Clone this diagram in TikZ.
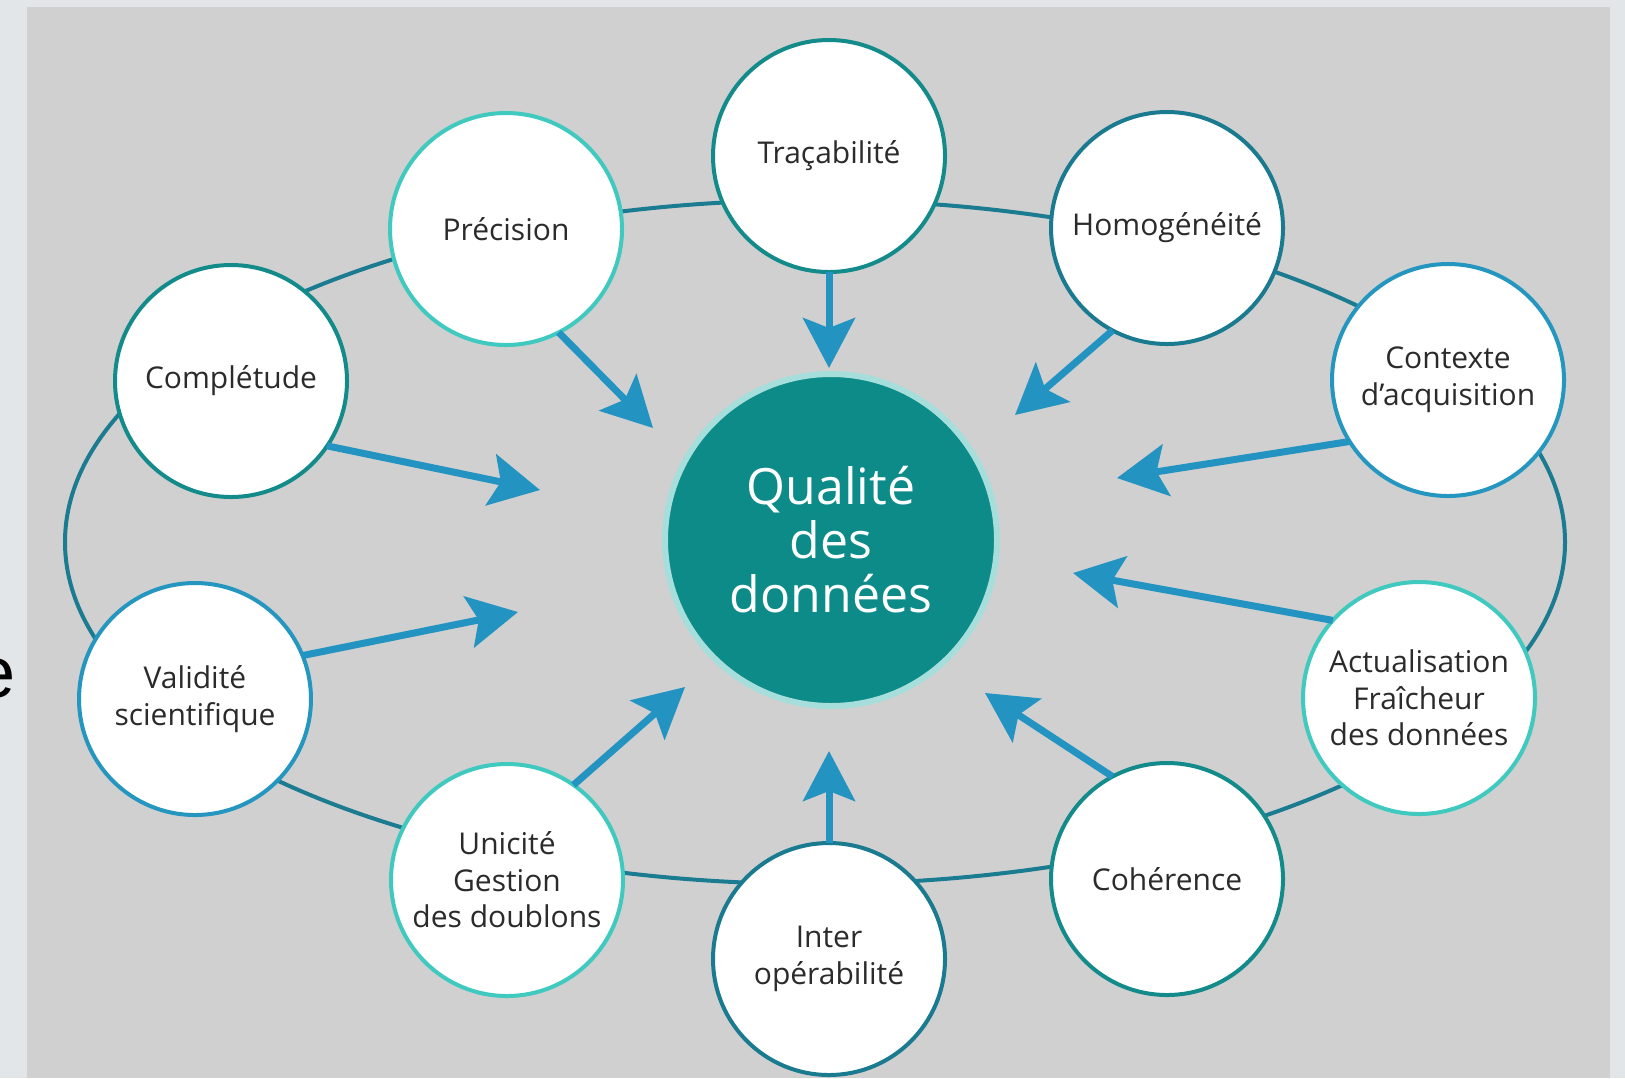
\documentclass[tikz,border=0pt]{standalone}
\usepackage{fontspec}
\setmainfont{Open Sans}
\newfontfamily\arialfont{Liberation Sans}
\usetikzlibrary{arrows.meta}
\definecolor{outerbg}{HTML}{E2E6E9}
\definecolor{panel}{HTML}{D0D0D0}
\definecolor{ringcol}{HTML}{1B7B90}
\definecolor{arrowblue}{HTML}{2393C2}
\definecolor{cteal}{HTML}{148B8B}
\definecolor{cturq}{HTML}{3FC9BF}
\definecolor{cblue}{HTML}{2596C0}
\definecolor{cdark}{HTML}{1A7A90}
\definecolor{centerfill}{HTML}{0C8B89}
\definecolor{centerring}{HTML}{A6DEDC}
\definecolor{txtcol}{HTML}{2B2B2B}
\begin{document}
\begin{tikzpicture}[x=0.5pt,y=-0.5pt,
  qnode/.style={circle, draw, line width=2pt, fill=white, minimum size=116pt,
    inner sep=0pt, outer sep=0pt, align=center, text=txtcol,
    font=\fontsize{15}{18.3}\selectfont},
  arr/.style={draw=arrowblue, line width=3.5pt,
    -{Stealth[length=25pt,width=26pt,inset=5pt]}}]
\useasboundingbox (0,0) rectangle (1625,1078);
\fill[outerbg] (0,0) rectangle (1625,1078);
\fill[panel] (27,7) rectangle (1610,1078);
\begin{scope}
  \clip (0,0) rectangle (27,1078);
  \node[anchor=base east, inner sep=0pt, text=black,
    font=\arialfont\fontsize{36}{40}\selectfont] (frag) at (16,697) {e};
\end{scope}
% ring
\draw[ringcol, line width=2pt] (815,542) ellipse [x radius=375pt, y radius=171pt];
% outer circles
\node[qnode, draw=cteal] (trac) at (829,156) {Traçabilité};
\node[qnode, draw=cturq] (prec) at (506,229) {Précision};
\node[qnode, draw=cdark] (hom) at (1167,228) {Homogénéité};
\node[qnode, draw=cteal] (comp) at (231,381) {Complétude};
\node[qnode, draw=cblue] (ctx) at (1448,380) {Contexte\\d'acquisition};
\node[qnode, draw=cblue] (val) at (195,699) {Validité\\scientifique};
\node[qnode, draw=cturq] (act) at (1419,698) {Actualisation\\Fraîcheur\\des données};
\node[qnode, draw=cturq] (uni) at (507,880) {Unicité\\Gestion\\des doublons};
\node[qnode, draw=cdark] (inter) at (829,959) {Inter\\opérabilité};
\node[qnode, draw=cteal] (coh) at (1167,879) {Cohérence};
% centre
\node[circle, fill=centerfill, draw=centerring, line width=3pt,
  minimum size=166pt, inner sep=0pt, text=white, align=center,
  font=\fontsize{25}{27}\selectfont] (centre) at (831,540) {Qualité\\des\\données};
% arrow tips
\coordinate (ttrac) at (829,368);
\coordinate (tprec) at (653,428);
\coordinate (thom) at (1015,415);
\coordinate (tcomp) at (540,490);
\coordinate (tctx) at (1117,478);
\coordinate (tval) at (518,612);
\coordinate (tact) at (1073,573);
\coordinate (tuni) at (685,687);
\coordinate (tinter) at (829,751);
\coordinate (tcoh) at (985,693);
\draw[arr] (trac.-90) -- (ttrac);
\draw[arr] (prec.-63) -- (tprec);
\draw[arr] (hom.-118) -- (thom);
\draw[arr] (comp.-34) -- (tcomp);
\draw[arr] (ctx.-148) -- (tctx);
\draw[arr] (val.22) -- (tval);
\draw[arr] (act.138) -- (tact);
\draw[arr] (uni.55) -- (tuni);
\draw[arr] (inter.90) -- (tinter);
\draw[arr] (coh.118) -- (tcoh);
\end{tikzpicture}
\end{document}
